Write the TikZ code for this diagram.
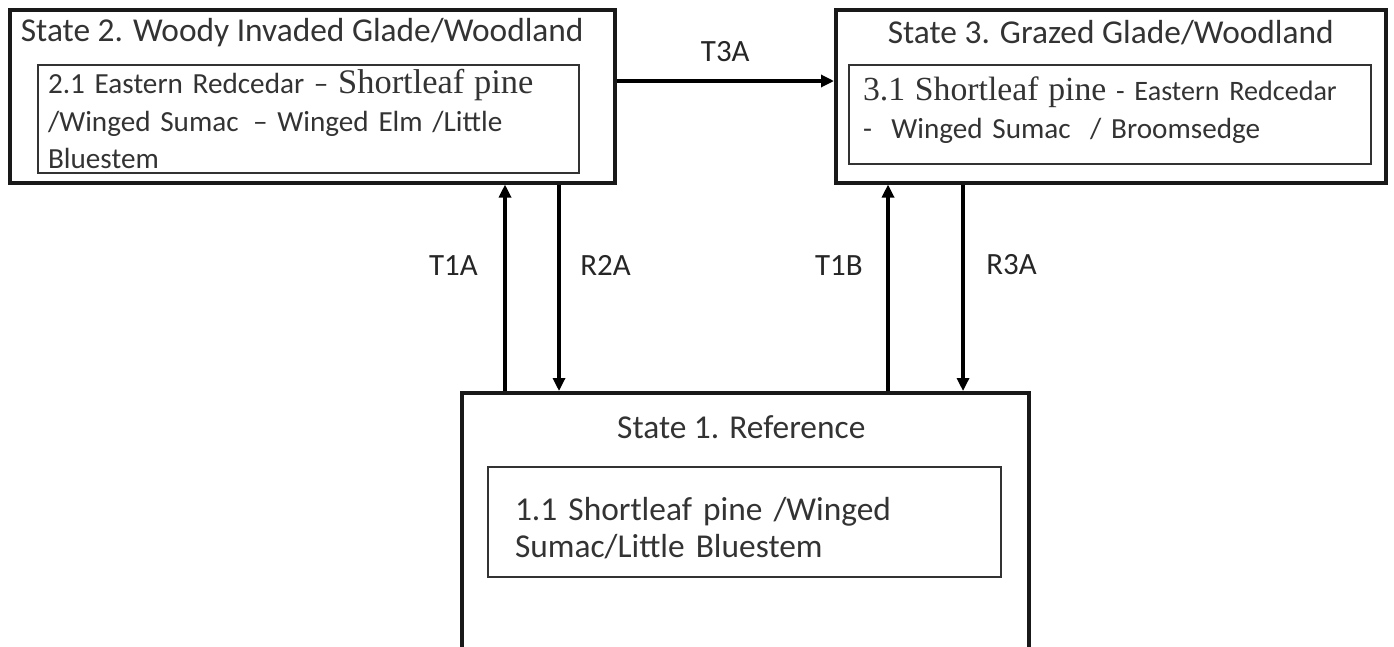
\documentclass[tikz,border=0pt]{standalone}
\usepackage{fontspec}
\setmainfont{Carlito}
\newfontfamily\cambria{Liberation Serif}
\usepackage{tikz}
\usetikzlibrary{arrows.meta, positioning, calc}
\hyphenpenalty=10000

\begin{document}
\begin{tikzpicture}[x=0.1mm,y=-0.1mm,
    outerbox/.style={draw=black!90,line width=1pt,anchor=north west,inner sep=0pt},
    innerbox/.style={draw=black!80,line width=0.6pt,anchor=north west,inner ysep=0pt,
                     align=left,text=black!80,font=\fontsize{8.3}{10.6}\selectfont},
    title/.style={font=\fontsize{9.5}{11}\selectfont,text=black!80},
    trans/.style={line width=0.9pt,-{Triangle[length=1.3mm,width=1.2mm]}},
    lbl/.style={font=\fontsize{8.8}{10}\selectfont,text=black!85}]
  \useasboundingbox (0,0) rectangle (1394,646);
  \clip (0,0) rectangle (1394,646);
  % states
  \node[outerbox,minimum width=60.5mm,minimum height=17.3mm](s2)at(8,8){};
  \node[title](t2)at($(s2.north)+(-10,25)$){State 2. Woody Invaded Glade/Woodland};
  \node[innerbox,inner xsep=1mm,text width=52.1mm,minimum height=10.8mm](s2a)at(37,64)
    {2.1 Eastern Redcedar – {\cambria\fontsize{9.8}{10.6}\selectfont Shortleaf pine}\\
     /Winged Sumac \,– Winged Elm /Little\\ Bluestem};
  \node[outerbox,minimum width=55mm,minimum height=17.3mm](s3)at(834,8){};
  \node[title](t3)at($(s3.north)+(0,25)$){State 3. Grazed Glade/Woodland};
  \node[innerbox,inner xsep=1.4mm,text width=49.4mm,minimum height=9.9mm,
        text depth=5.1mm](s3a)at(848,64)
    {{\cambria\fontsize{9.6}{10.6}\selectfont 3.1 Shortleaf pine} {\fontsize{8}{10.6}\selectfont - Eastern Redcedar}\\
     -\ \ Winged Sumac \ / Broomsedge};
  \node[outerbox,minimum width=56.7mm,minimum height=27mm](s1)at(460,391){};
  \node[title](t1)at($(s1.north)+(-4,36)$){State 1. Reference};
  \node[innerbox,inner xsep=2.7mm,text width=45.9mm,minimum height=11mm,
        font=\fontsize{9.5}{10.6}\selectfont,text depth=2.7mm](s1a)at(487,466)
    {1.1 Shortleaf pine /Winged\\ Sumac/Little Bluestem};
  % transitions
  \coordinate(xa)at(505,0);
  \coordinate(xb)at(559,0);
  \coordinate(xc)at(888,0);
  \coordinate(xd)at(963,0);
  \coordinate(ya)at(0,81);
  \draw[trans](xa |- s1.north)--(xa |- s2.south)node[lbl,pos=0.61,left=1.4mm]{T1A};
  \draw[trans](xb |- s2.south)--(xb |- s1.north)node[lbl,pos=0.39,right=0.8mm]{R2A};
  \draw[trans](xc |- s1.north)--(xc |- s3.south)node[lbl,pos=0.61,left=1.2mm]{T1B};
  \draw[trans](xd |- s3.south)--(xd |- s1.north)node[lbl,pos=0.39,right=1mm]{R3A};
  \draw[trans](s2.east |- ya)--(s3.west |- ya)node[lbl,midway,above=0.6mm]{T3A};
\end{tikzpicture}
\end{document}
